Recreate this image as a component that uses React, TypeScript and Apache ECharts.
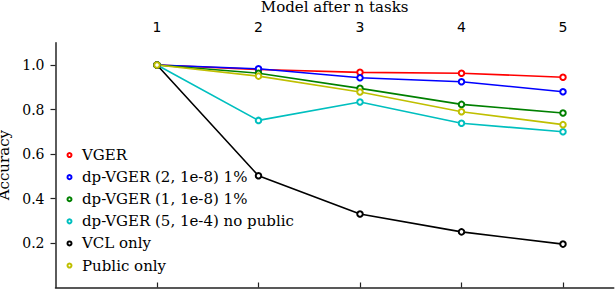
import React, { useEffect, useRef } from "react";
import * as echarts from "echarts";

const tasks = [1, 2, 3, 4, 5];
const seriesNames = [
  "VGER",
  "dp-VGER (2, 1e-8) 1%",
  "dp-VGER (1, 1e-8) 1%",
  "dp-VGER (5, 1e-4) no public",
  "VCL only",
  "Public only",
];
const vger = [1.0, 0.98, 0.967, 0.963, 0.945];
const dpVger2 = [1.0, 0.983, 0.943, 0.925, 0.88];
const dpVger1 = [1.0, 0.963, 0.895, 0.823, 0.784];
const dpVger5 = [1.0, 0.751, 0.834, 0.738, 0.7];
const vclOnly = [1.0, 0.502, 0.33, 0.25, 0.195];
const publicOnly = [1.0, 0.95, 0.879, 0.79, 0.732];
const colors = ["#ff0000", "#0000ff", "#008000", "#00bfbf", "#000000", "#bfbf00"];
const yTicks = [0.2, 0.4, 0.6, 0.8, 1.0];

const allValues = [vger, dpVger2, dpVger1, dpVger5, vclOnly, publicOnly];

export default function App() {
  const ref = useRef<HTMLDivElement>(null);
  useEffect(() => {
    if (!ref.current) return;
    const chart = echarts.init(ref.current, null, { renderer: "svg" });
    const serif = "DejaVu Serif";
    chart.setOption({
      animation: false,
      backgroundColor: "#ffffff",
      grid: {
        left: 55.5,
        right: 2.25,
        top: 42.75,
        bottom: 2.5,
        containLabel: false,
        outerBoundsMode: "none",
      },
      legend: {
        orient: "vertical",
        left: 66.5,
        top: 144,
        padding: 0,
        itemWidth: 15,
        itemHeight: 4,
        itemGap: 0,
        icon: "emptyCircle",
        itemStyle: { borderWidth: 1.3 },
        textStyle: { fontFamily: serif, fontSize: 15, color: "#000", lineHeight: 22.1 },
        data: seriesNames,
      },
      xAxis: {
        type: "value",
        position: "top",
        min: 0,
        max: 5.5,
        name: "Model after n tasks",
        nameLocation: "middle",
        nameGap: 25.5,
        nameTextStyle: { fontFamily: serif, fontSize: 15, color: "#000" },
        axisLine: { show: true, lineStyle: { color: "#222", width: 1.5 } },
        axisTick: { show: true, length: 5, inside: false, customValues: tasks, lineStyle: { color: "#222", width: 1.2 } },
        axisLabel: { customValues: tasks, fontFamily: "DejaVu Sans", fontSize: 14, color: "#000", margin: 9 },
        splitLine: { show: false },
      },
      yAxis: {
        type: "value",
        min: 0,
        max: 1.1,
        name: "Accuracy",
        nameLocation: "middle",
        nameGap: 38.5,
        nameTextStyle: { fontFamily: serif, fontSize: 15, color: "#000" },
        axisLine: { show: true, lineStyle: { color: "#333", width: 1.6 } },
        axisTick: { show: true, length: 5, customValues: yTicks, lineStyle: { color: "#222", width: 1.2 } },
        axisLabel: {
          customValues: yTicks,
          fontFamily: serif,
          fontSize: 14,
          color: "#000",
          margin: 11,
          formatter: (v: number) => v.toFixed(1),
        },
        splitLine: { show: false },
      },
      series: allValues.map((vals, i) => ({
        name: seriesNames[i],
        type: "line",
        data: tasks.map((t, j) => [t, vals[j]]),
        symbol: "emptyCircle",
        symbolSize: 5.5,
        color: colors[i],
        lineStyle: { color: colors[i], width: 1.6 },
        itemStyle: { color: colors[i], borderColor: colors[i], borderWidth: 1.5 },
      })),
    });
    return () => chart.dispose();
  }, []);
  return (
    <div
      ref={ref}
      style={{ position: "absolute", left: 0, top: 0, width: 616, height: 290 }}
    />
  );
}
